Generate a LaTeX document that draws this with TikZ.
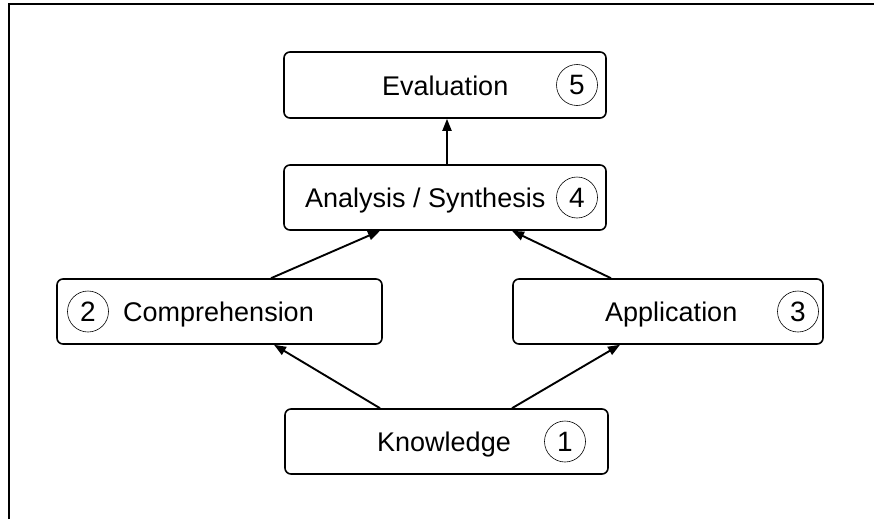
\documentclass[tikz,border=0pt]{standalone}
\usepackage{fontspec}
\setmainfont{Liberation Sans}
\usetikzlibrary{arrows.meta}
\begin{document}
\begin{tikzpicture}[x=1pt,y=-1pt,
  box/.style={draw,line width=1.6pt,rounded corners=6pt,inner sep=0pt},
  lbl/.style={anchor=base west,inner sep=0pt,font=\fontsize{27}{31}\selectfont},
  num/.style={draw,circle,line width=0.6pt,minimum size=41pt,inner sep=0pt,font=\fontsize{28}{32}\selectfont},
  arr/.style={line width=1.9pt,-{Triangle[length=12pt,width=9pt]}}]
\useasboundingbox (0,0) rectangle (874,519);
\draw[line width=1.6pt] (9,519) -- (9,4) -- (874,4);
% boxes
\node[box,minimum width=322pt,minimum height=66pt] (eva) at (445,85) {};
\node[box,minimum width=322pt,minimum height=65pt] (ana) at (445,197.5) {};
\node[box,minimum width=325pt,minimum height=65pt] (comp) at (219.5,311.5) {};
\node[box,minimum width=310pt,minimum height=65pt] (app) at (668,311.5) {};
\node[box,minimum width=323pt,minimum height=65pt] (know) at (446.5,441.5) {};
% labels
\node[lbl] (teva) at (382,95) {Evaluation};
\node[lbl] (tana) at (305,207) {Analysis / Synthesis};
\node[lbl] (tcomp) at (123,321) {Comprehension};
\node[lbl] (tapp) at (605,321) {Application};
\node[lbl] (tknow) at (377,451) {Knowledge};
% numbers
\node[num] (n5) at (577,85) {5};
\node[num] (n4) at (577,197.5) {4};
\node[num] (n2) at (88,311.5) {2};
\node[num] (n3) at (798,311.5) {3};
\node[num] (n1) at (565,441.5) {1};
% connector x positions
\coordinate (xa) at (447,0);
\coordinate (xb) at (271,0);
\coordinate (xc) at (380,0);
\coordinate (xd) at (611,0);
\coordinate (xe) at (512,0);
\coordinate (xf) at (274,0);
\coordinate (xg) at (620,0);
\draw[arr] (ana.north -| xa) -- (eva.south -| xa);
\draw[arr] (comp.north -| xb) -- (ana.south -| xc);
\draw[arr] (app.north -| xd) -- (ana.south -| xe);
\draw[arr] (know.north -| xc) -- (comp.south -| xf);
\draw[arr] (know.north -| xe) -- (app.south -| xg);
\end{tikzpicture}
\end{document}
